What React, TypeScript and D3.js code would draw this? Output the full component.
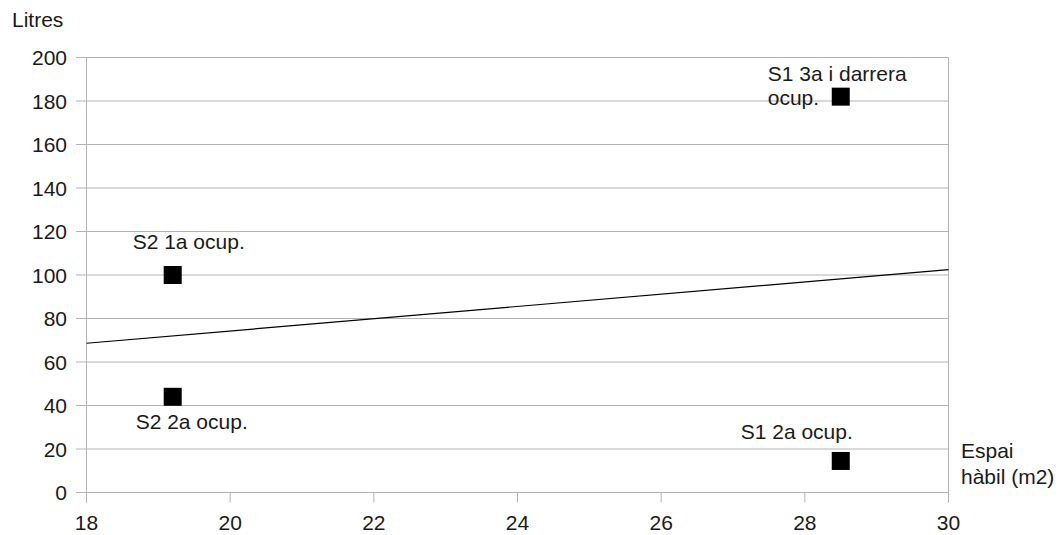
import React from "react";
import * as d3 from "d3";

const xTicks = [18, 20, 22, 24, 26, 28, 30];
const yTicks = [0, 20, 40, 60, 80, 100, 120, 140, 160, 180, 200];
const pointX = [19.2, 19.2, 28.5, 28.5];
const pointY = [100, 44, 182, 14.5];
const pointLabels = [["S2 1a ocup."], ["S2 2a ocup."], ["S1 3a i darrera", "ocup."], ["S1 2a ocup."]];
const yAxisTitle = "Litres";
const xAxisTitle = ["Espai", "hàbil (m2)"];

// label placement relative to its point (style, not data)
const labelPlacement = [
  { dx: 16, dy: -26, anchor: "middle" },
  { dx: 19, dy: 32, anchor: "middle" },
  { dx: -73, dy: -16, anchor: "start" },
  { dx: -44, dy: -22, anchor: "middle" },
];

const W = 1063;
const H = 535;
const FONT = "'Liberation Sans', Arial, sans-serif";
const GRID = "#b3b3b3";
const TEXT = "#1a1a1a";

export default function App() {
  React.useEffect(() => {
    document.body.style.margin = "0";
  }, []);
  const x = d3.scaleLinear().domain([18, 30]).range([86.5, 948.5]);
  const y = d3.scaleLinear().domain([0, 200]).range([492.5, 57.5]);

  // linear regression trend line
  const mx = d3.mean(pointX) as number;
  const my = d3.mean(pointY) as number;
  let num = 0;
  let den = 0;
  pointX.forEach((v, i) => {
    num += (v - mx) * (pointY[i] - my);
    den += (v - mx) * (v - mx);
  });
  const slope = num / den;
  const intercept = my - slope * mx;
  const trend = d3.line<number>().x((d) => x(d)).y((d) => y(intercept + slope * d));
  const fs = 21;
  const ms = 18;

  return (
    <svg width={W} height={H} style={{ display: "block", position: "absolute", left: 0, top: 0, background: "#fff" }} fontFamily={FONT}>
      <rect x={0} y={0} width={W} height={H} fill="#fff" />
      {yTicks.map((t) => (
        <g key={"y" + t}>
          <line x1={76} x2={x(30)} y1={y(t)} y2={y(t)} stroke={GRID} strokeWidth={1} />
          <text x={67} y={y(t)} dy="0.36em" textAnchor="end" fontSize={fs} fill={TEXT}>
            {t}
          </text>
        </g>
      ))}
      <line x1={x(18)} x2={x(18)} y1={y(200)} y2={y(0) + 10} stroke={GRID} strokeWidth={1} />
      <line x1={x(30)} x2={x(30)} y1={y(200)} y2={y(0) + 10} stroke={GRID} strokeWidth={1} />
      {xTicks.map((t) => (
        <g key={"x" + t}>
          <line x1={x(t)} x2={x(t)} y1={y(0)} y2={y(0) + 10} stroke={GRID} strokeWidth={1} />
          <text x={x(t)} y={530} textAnchor="middle" fontSize={fs} fill={TEXT}>
            {t}
          </text>
        </g>
      ))}
      <path d={trend([18, 30]) as string} stroke="#000" strokeWidth={1.2} fill="none" />
      {pointX.map((px, i) => (
        <rect key={"p" + i} x={x(px) - ms / 2} y={y(pointY[i]) - ms / 2} width={ms} height={ms} fill="#000" />
      ))}
      {pointX.map((px, i) => {
        const p = labelPlacement[i];
        return (
          <text key={"l" + i} x={x(px) + p.dx} y={y(pointY[i]) + p.dy} textAnchor={p.anchor} fontSize={fs} fill={TEXT}>
            {pointLabels[i].map((ln, j) => (
              <tspan key={j} x={x(px) + p.dx} dy={j === 0 ? 0 : 24}>
                {ln}
              </tspan>
            ))}
          </text>
        );
      })}
      <text x={12} y={27} fontSize={fs} fill={TEXT}>
        {yAxisTitle}
      </text>
      <text x={961} y={458} fontSize={fs} fill={TEXT}>
        {xAxisTitle.map((ln, j) => (
          <tspan key={j} x={961} dy={j === 0 ? 0 : 26}>
            {ln}
          </tspan>
        ))}
      </text>
    </svg>
  );
}
